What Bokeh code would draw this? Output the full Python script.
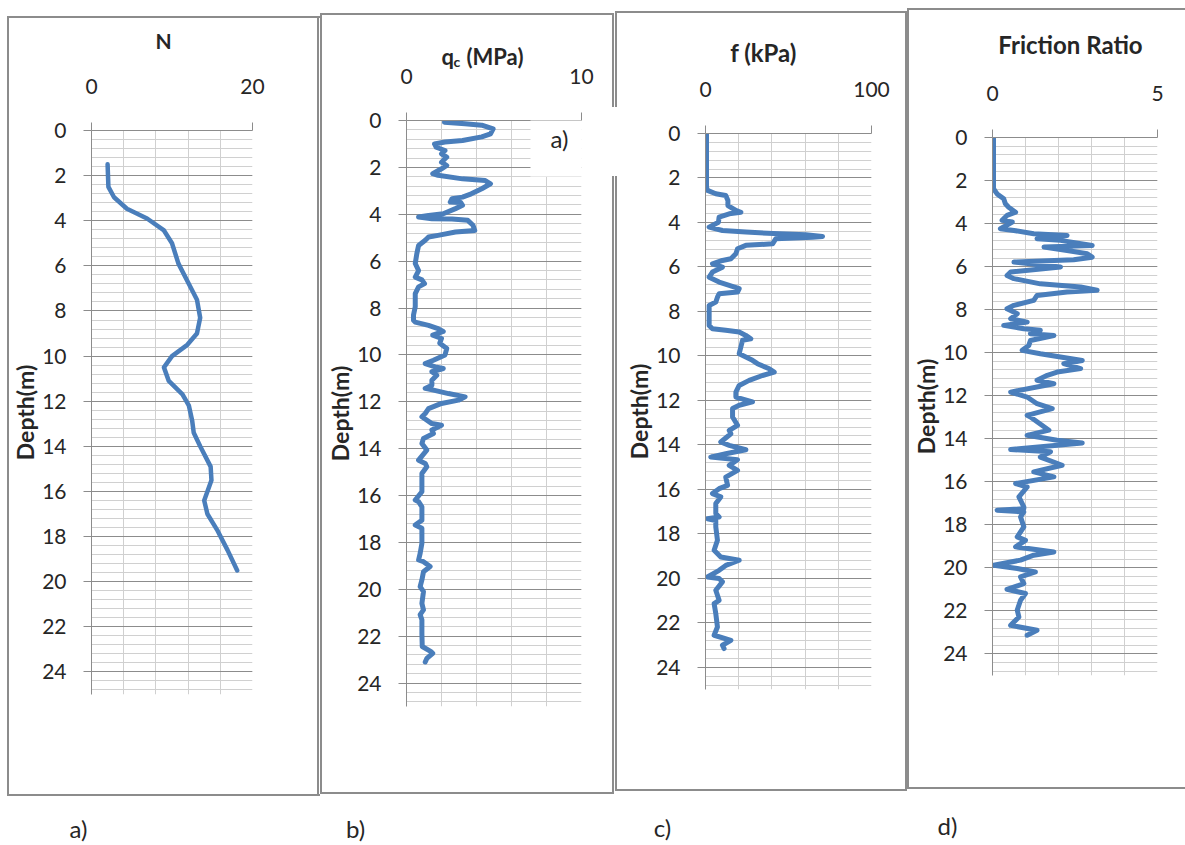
from bokeh.plotting import figure
from bokeh.models import Range1d, FixedTicker, BoxAnnotation, Label
from bokeh.layouts import row, column
from bokeh.embed import file_html
from bokeh.resources import INLINE

# ---------------- data ----------------
n_depth = [1.5, 2.5, 2.96, 3.47, 3.9, 4.43, 5.0, 5.9, 6.8, 7.5, 8.3, 9.0, 9.5, 10.0, 10.5, 11.1, 11.7, 12.2,
           12.85, 13.4, 14.0, 14.9, 15.5, 16.4, 17.0, 17.7, 18.6, 19.5]
n_value = [2.0, 2.1, 2.8, 4.4, 6.9, 9.0, 10.0, 10.8, 12.1, 13.1, 13.5, 13.1, 11.9, 10.0, 9.0, 9.6, 11.3, 12.1,
           12.5, 12.7, 13.5, 14.8, 14.9, 14.0, 14.4, 15.6, 16.9, 18.1]

qc_depth = [0.07, 0.14, 0.2, 0.36, 0.57, 0.7, 0.85, 0.92, 1.0, 1.14, 1.28, 1.42, 1.56, 1.78, 1.92, 2.06, 2.27,
            2.34, 2.49, 2.56, 2.7, 2.91, 3.13, 3.27, 3.34, 3.48, 3.5, 3.62, 3.76, 3.98, 4.05, 4.12, 4.19, 4.2,
            4.26, 4.47, 4.69, 4.76, 4.9, 4.97, 5.11, 5.33, 5.68, 6.1, 6.4, 6.68, 6.8, 6.96, 7.1, 7.39, 7.95,
            8.3, 8.52, 8.6, 8.74, 8.88, 9.0, 9.16, 9.3, 9.5, 9.73, 10.0, 10.23, 10.37, 10.51, 10.58, 10.72,
            10.87, 11.08, 11.29, 11.43, 11.5, 11.65, 11.79, 11.93, 12.07, 12.29, 12.5, 12.64, 12.93, 13.0,
            13.2, 13.35, 13.57, 13.78, 14.06, 14.49, 14.63, 14.77, 15.06, 15.48, 15.84, 16.19, 16.26, 16.48,
            17.05, 17.26, 17.4, 18.04, 18.47, 18.75, 18.82, 19.03, 19.25, 19.6, 19.89, 20.1, 20.6, 20.88,
            21.08, 21.3, 21.9, 22.44, 22.66, 22.73, 22.95, 23.1]
qc_value = [2.17, 3.35, 4.3, 4.95, 4.8, 4.3, 3.2, 2.2, 1.6, 1.7, 2.2, 2.0, 2.3, 2.0, 2.3, 2.0, 1.5,
            1.8, 3.2, 4.5, 4.8, 4.3, 3.7, 3.2, 2.6, 2.5, 3.1, 3.2, 2.8, 2.1, 1.26, 0.69, 1.45, 2.6,
            3.5, 3.8, 3.9, 2.8, 1.8, 1.26, 1.07, 0.69, 0.59, 0.5, 0.69, 0.5, 0.88, 1.03, 0.69, 0.5, 0.5,
            0.4, 0.4, 0.5, 1.26, 1.8, 2.1, 1.5, 2.0, 1.9, 2.3, 2.2, 1.54, 1.07, 1.64, 2.1, 1.45,
            1.73, 1.45, 1.45, 1.07, 1.54, 2.4, 3.35, 2.97, 2.0, 1.26, 1.07, 0.88, 1.45, 2.0,
            1.45, 1.54, 0.97, 0.88, 1.16, 0.69, 1.07, 1.16, 0.88, 0.88, 0.88, 0.5, 0.69, 0.88,
            0.88, 0.5, 0.88, 0.88, 0.78, 0.69, 0.97, 1.35, 0.97, 0.88, 0.78, 0.97, 0.88, 0.97,
            0.78, 0.88, 0.88, 0.9, 1.4, 1.5, 1.16, 1.07]

f_depth = [0.0, 2.41, 2.56, 2.71, 2.79, 3.01, 3.24, 3.46, 3.54, 3.61, 3.76, 3.99, 4.21, 4.36, 4.43, 4.51,
           4.55, 4.63, 4.66, 4.73, 4.96, 5.03, 5.18, 5.41, 5.63, 5.71, 5.86, 6.01, 6.23, 6.46, 6.68, 6.83,
           6.98, 7.13, 7.21, 7.36, 7.58, 7.73, 8.1, 8.63, 8.78, 8.85, 8.93, 9.08, 9.23, 9.3, 9.6, 9.9,
           10.05, 10.2, 10.35, 10.58, 10.73, 10.88, 11.1, 11.33, 11.63, 11.85, 12.07, 12.22, 12.37, 12.75,
           13.12, 13.35, 13.5, 13.87, 14.02, 14.22, 14.4, 14.55, 14.67, 14.92, 15.15, 15.45, 15.82, 15.97,
           16.19, 16.34, 16.64, 17.09, 17.24, 17.32, 17.4, 17.69, 18.29, 18.74, 19.04, 19.19, 19.42, 19.64,
           19.94, 20.01, 20.16, 20.54, 20.99, 21.14, 21.59, 22.19, 22.56, 22.79, 23.01, 23.16]
f_value = [0.6, 0.6, 1.2, 6.2, 12.2, 13.5, 13.5, 18.3, 21.3, 14.3, 8.2, 7.8, 2.2, 10.2, 24.3, 44.4,
           60.4, 70.5, 64.5, 42.4, 40.4, 24.3, 19.3, 18.3, 15.3, 10.2, 4.2, 10.2, 4.2, 2.2, 8.2, 14.3,
           20.3, 19.3, 8.2, 7.2, 6.2, 2.2, 2.2, 2.2, 4.2, 12.2, 20.3, 24.3, 27.3, 22.3, 21.3, 20.3,
           24.3, 28.3, 31.3, 38.4, 41.4, 34.3, 26.3, 20.3, 18.3, 18.3, 28.3, 20.3, 16.3, 16.3,
           19.3, 14.3, 15.3, 9.2, 14.3, 24.3, 12.2, 3.2, 19.3, 14.3, 19.3, 12.2, 13.3, 8.2,
           4.2, 9.2, 6.2, 6.2, 8.2, 1.2, 6.2, 6.2, 7.2, 5.2, 9.2, 20.3, 12.2, 8.2,
           1.2, 8.2, 10.2, 6.2, 8.2, 5.2, 6.2, 7.2, 5.2, 15.3, 10.2, 11.2]

fr_depth = [0.0, 2.38, 2.62, 2.85, 3.08, 3.24, 3.47, 3.62, 3.85, 3.93, 4.24, 4.32, 4.47, 4.55, 4.7, 4.78,
            5.02, 5.09, 5.25, 5.4, 5.56, 5.68, 5.79, 6.02, 6.25, 6.41, 6.56, 6.8, 6.95, 7.1, 7.18, 7.34,
            7.57, 7.8, 7.96, 8.19, 8.42, 8.58, 8.73, 8.89, 8.96, 9.12, 9.2, 9.43, 9.66, 9.89, 10.05, 10.2,
            10.36, 10.51, 10.74, 10.9, 11.05, 11.28, 11.44, 11.83, 12.06, 12.37, 12.6, 12.91, 12.99, 13.6,
            13.84, 14.07, 14.2, 14.5, 14.6, 14.85, 15.23, 15.54, 15.77, 16.08, 16.24, 16.7, 17.17, 17.25,
            17.32, 17.4, 17.63, 18.09, 18.56, 18.72, 19.02, 19.26, 19.41, 19.64, 19.88, 20.03, 20.19, 20.42,
            20.73, 21.0, 21.19, 21.5, 21.96, 22.28, 22.67, 22.9, 23.13]
fr_value = [0.03, 0.03, 0.14, 0.34, 0.39, 0.49, 0.7, 0.44, 0.29, 0.6, 0.24, 0.65, 1.25, 2.26, 1.35, 2.06,
            3.02, 1.56, 2.26, 2.87, 3.02, 2.46, 0.65, 2.06, 0.55, 0.44, 0.65, 1.45, 2.67, 3.17, 2.26, 1.35,
            1.25, 0.65, 0.44, 0.75, 0.55, 1.05, 0.34, 0.95, 1.45, 1.15, 1.86, 1.15, 1.1, 0.9, 1.45, 2.06,
            2.72, 2.16, 2.67, 1.96, 1.66, 1.35, 1.86, 0.55, 1.05, 1.35, 1.81, 1.05, 1.15, 1.71,
            1.05, 1.96, 2.72, 0.55, 1.76, 1.45, 2.11, 1.25, 1.86, 0.7, 1.05, 0.8, 0.95, 0.95,
            0.14, 0.95, 0.85, 0.95, 0.75, 1.0, 0.7, 1.86, 1.25, 0.85, 0.04, 0.75, 1.3, 0.85,
            0.95, 0.44, 1.0, 0.85, 0.75, 0.8, 0.55, 1.35, 1.05]

titles = ["N", "q", "f (kPa)", "Friction Ratio"]
x_max = [20, 10, 100, 5]
captions = ["a)", "b)", "c)", "d)"]
depth_label = "Depth(m)"
depth_max = 25

FONT = "Lato"
BLUE = "#4A7EBB"
TXT = "#262626"
BORDER = "#8C8C8C"
FS = "21px"
CAP_FS = "24px"


def panel(width, fl, fr, ft, fb, xmax, depth, vals, lw, title_specs, caption_xy, caption):
    p = figure(width=width, height=845, output_backend="svg", toolbar_location=None,
               x_range=Range1d(0, xmax), y_range=Range1d(depth_max, 0),
               x_axis_location="above",
               min_border_left=fl, min_border_right=width - fr,
               min_border_top=ft, min_border_bottom=845 - fb)
    p.background_fill_color = None
    p.border_fill_color = None
    p.outline_line_color = None

    xt = FixedTicker(ticks=[0, xmax], minor_ticks=[xmax * i / 5 for i in range(6)])
    yt = FixedTicker(ticks=list(range(0, 25, 2)), minor_ticks=[round(0.4 * i, 2) for i in range(63)])
    p.xaxis.ticker = xt
    p.yaxis.ticker = yt
    p.xgrid.ticker = xt
    p.ygrid.ticker = yt
    p.xgrid.grid_line_color = "#BFBFBF"
    p.xgrid.minor_grid_line_color = "#D0D0D0"
    p.ygrid.grid_line_color = "#8C8C8C"
    p.ygrid.minor_grid_line_color = "#D0D0D0"

    for ax in (p.xaxis[0], p.yaxis[0]):
        ax.axis_line_color = "#8C8C8C"
        ax.major_tick_line_color = "#8C8C8C"
        ax.major_tick_out = 8
        ax.major_tick_in = 0
        ax.minor_tick_line_color = None
        ax.major_label_text_font = FONT
        ax.major_label_text_font_size = FS
        ax.major_label_text_color = TXT
    p.xaxis.major_label_standoff = 29
    p.yaxis.major_label_standoff = 17
    p.yaxis.axis_label = depth_label
    p.yaxis.axis_label_text_font = FONT
    p.yaxis.axis_label_text_font_size = "23px"
    p.yaxis.axis_label_text_font_style = "bold"
    p.yaxis.axis_label_text_color = TXT
    p.yaxis.axis_label_standoff = 0

    p.line(vals, depth, line_color=BLUE, line_width=lw, line_join="round", line_cap="round")

    # titles and captions live in the bottom side panel (not clipped to the frame)
    for (txt, x, y, size, align) in title_specs:
        p.add_layout(Label(x=x, y=y, x_units="canvas", y_units="canvas", text=txt,
                           text_font=FONT, text_font_size=size, text_font_style="bold",
                           text_color=TXT, text_align=align, text_baseline="middle"), "below")
    p.add_layout(Label(x=caption_xy[0], y=caption_xy[1], x_units="canvas", y_units="canvas",
                       text=caption, text_font=FONT, text_font_size=CAP_FS, text_color=TXT,
                       text_align="center", text_baseline="middle"), "below")
    return p


pa = panel(320, 91, 252, 130, 694, x_max[0], n_depth, n_value, 4.5,
           [(titles[0], 163, 40, "21px", "center")], (78, 828), captions[0])
pb = panel(294, 86, 261, 120, 706, x_max[1], qc_depth, qc_value, 5,
           [(titles[1], 121, 56, "22px", "left"), ("c", 133, 61, "14px", "left"),
            ("(MPa)", 146, 56, "22px", "left")],
           (35, 828), captions[1])
pc = panel(293, 91, 257, 133, 689, x_max[2], f_depth, f_value, 5,
           [(titles[2], 149, 52, "24px", "center")], (48, 827), captions[2])
pd = panel(278, 85, 250, 137, 675, x_max[3], fr_depth, fr_value, 5,
           [(titles[3], 163, 44, "24px", "center")], (40, 825), captions[3])

# white "a)" box overlapping the top-right corner of panel b
pb.add_layout(BoxAnnotation(left=210, right=300, top=107, bottom=176,
                            left_units="canvas", right_units="canvas", top_units="canvas", bottom_units="canvas",
                            fill_color="white", fill_alpha=1, line_color=None, level="overlay"))
pb.add_layout(Label(x=239, y=138, x_units="canvas", y_units="canvas", text="a)", text_font=FONT,
                    text_font_size="24px", text_color=TXT, text_align="center", text_baseline="middle",
                    level="overlay"))

# panel frames (decoration) drawn as background segments of the row element
segs = [
    (7, 16, 313, 2), (7, 794, 313, 2), (7, 16, 2, 780), (317, 16, 2, 780),            # a
    (320, 13, 294, 2), (320, 792, 294, 2), (320, 13, 2, 781), (612, 13, 2, 94), (612, 176, 2, 618),  # b
    (615, 11, 292, 2), (615, 789, 292, 2), (615, 11, 2, 96), (615, 176, 2, 615), (905, 11, 2, 780),  # c
    (907, 8, 278, 2), (907, 787, 278, 2), (907, 8, 2, 781),                            # d
]
bg = ", ".join(f"linear-gradient({BORDER},{BORDER}) {x}px {y}px / {w}px {h}px no-repeat" for x, y, w, h in segs)

layout = row(column(pa), column(pb), column(pc), column(pd), spacing=0,
             styles={"background": bg})
open("out.html", "w").write(file_html(layout, INLINE))
